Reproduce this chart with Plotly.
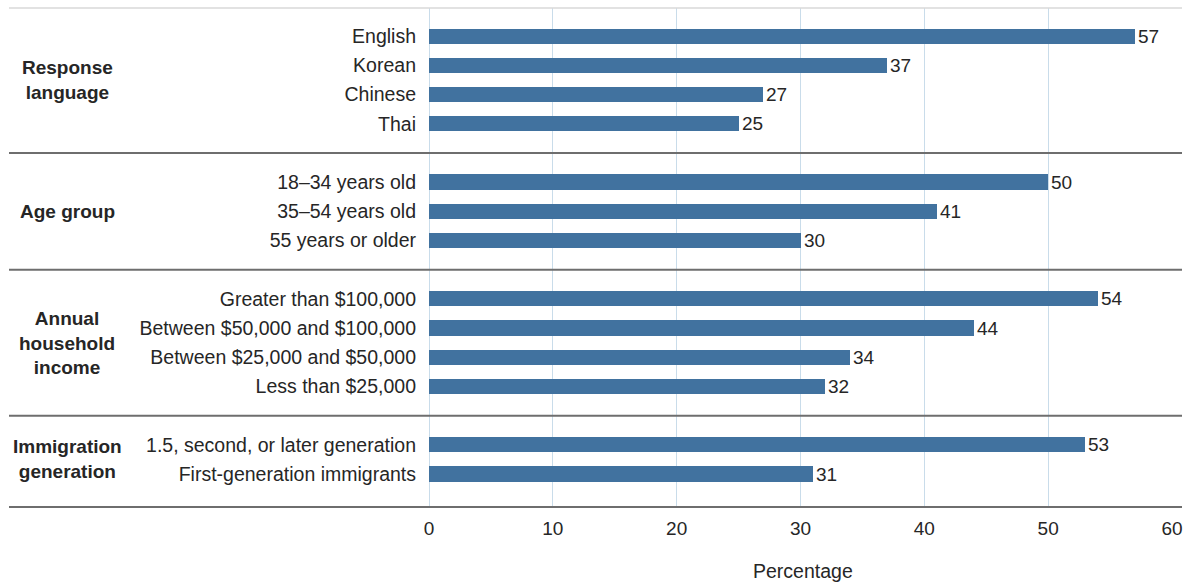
import plotly.graph_objects as go

# Survey breakdown: share (%) by subgroup
group_names = ["Response<br>language", "Age group", "Annual<br>household<br>income",
               "Immigration<br>generation"]
language_labels = ["English", "Korean", "Chinese", "Thai"]
language_values = [57, 37, 27, 25]
age_labels = ["18–34 years old", "35–54 years old", "55 years or older"]
age_values = [50, 41, 30]
income_labels = ["Greater than $100,000", "Between $50,000 and $100,000",
                 "Between $25,000 and $50,000", "Less than $25,000"]
income_values = [54, 44, 34, 32]
generation_labels = ["1.5, second, or later generation", "First-generation immigrants"]
generation_values = [53, 31]
x_ticks = [0, 10, 20, 30, 40, 50, 60]

groups = [
    (language_labels, language_values),
    (age_labels, age_values),
    (income_labels, income_values),
    (generation_labels, generation_values),
]

FONT = "Liberation Sans, Arial, Helvetica, sans-serif"
TEXT = "#262626"
BAR = "#41729f"
GRID = "#c9dcea"
RULE = "#6e6e6e"

# Lay rows out top to bottom, leaving one empty row between groups
ys, labels, values, group_mid, separators = [], [], [], [], []
pos = 0
for i, (labs, vals) in enumerate(groups):
    start = pos
    for lab, val in zip(labs, vals):
        ys.append(pos)
        labels.append(lab)
        values.append(val)
        pos += 1
    group_mid.append((start + pos - 1) / 2)
    if i < len(groups) - 1:
        separators.append(pos)
        pos += 1

y_top = -0.963
y_bottom = ys[-1] + 1.13

fig = go.Figure(go.Bar(
    x=values, y=ys, orientation="h", width=0.52,
    marker=dict(color=BAR, line=dict(width=0)),
    text=[str(v) for v in values], textposition="outside", constraintext="none",
    textfont=dict(family=FONT, size=19, color=TEXT),
    cliponaxis=False, hoverinfo="skip",
))

left_edge = (9 - 429) / 743
right_edge = (1182 - 429) / 743

shapes = [
    dict(type="line", xref="paper", yref="paper", x0=left_edge, x1=right_edge,
         y0=1, y1=1, line=dict(color="#d9d9d9", width=1.5)),
    dict(type="line", xref="paper", yref="paper", x0=left_edge, x1=right_edge,
         y0=0, y1=0, line=dict(color=RULE, width=2)),
]
for s in separators:
    shapes.append(dict(type="line", xref="paper", yref="y", x0=left_edge, x1=right_edge,
                       y0=s, y1=s, line=dict(color=RULE, width=2)))

annotations = []
for name, mid in zip(group_names, group_mid):
    annotations.append(dict(
        text=f"<b>{name}</b>", xref="paper", yref="y", x=(67 - 429) / 743, y=mid,
        xanchor="center", yanchor="middle", showarrow=False, align="center",
        font=dict(family=FONT, size=19, color=TEXT),
    ))
annotations.append(dict(
    text="Percentage", xref="paper", yref="paper", x=0.503, y=-0.129,
    xanchor="center", yanchor="middle", showarrow=False,
    font=dict(family=FONT, size=19.5, color=TEXT),
))

fig.update_layout(
    width=1185, height=584,
    margin=dict(l=429, r=13, t=8, b=77, autoexpand=False),
    paper_bgcolor="white", plot_bgcolor="white",
    showlegend=False, bargap=0,
    font=dict(family=FONT, size=19, color=TEXT),
    shapes=shapes, annotations=annotations,
    xaxis=dict(
        range=[0, 60], tickvals=x_ticks, showgrid=True, gridcolor=GRID, gridwidth=1,
        zeroline=True, zerolinecolor=GRID, zerolinewidth=1, showline=False,
        ticks="", ticklabelstandoff=8, automargin=False,
        tickfont=dict(family=FONT, size=19, color=TEXT), fixedrange=True,
    ),
    yaxis=dict(
        range=[y_bottom, y_top], tickvals=ys, ticktext=labels, showgrid=False,
        zeroline=False, showline=False, ticks="", ticklabelstandoff=12, automargin=False,
        tickfont=dict(family=FONT, size=19.5, color=TEXT), fixedrange=True,
    ),
)

fig.write_html("out.html")
